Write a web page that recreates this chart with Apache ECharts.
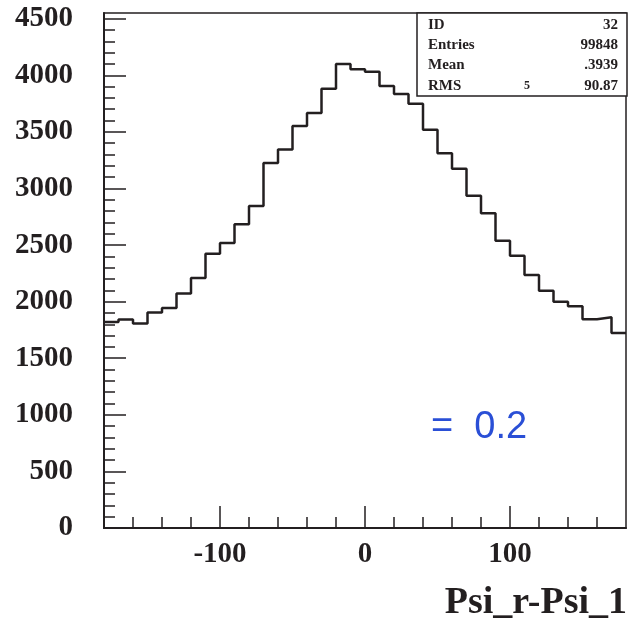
<!DOCTYPE html>
<html>
<head>
<meta charset="utf-8">
<script src="https://cdn.jsdelivr.net/npm/echarts@6/dist/echarts.min.js"></script>
<style>html,body{margin:0;padding:0;background:#fff;}#c{width:630px;height:626px;}</style>
</head>
<body>
<div id="c"></div>
<script>
// Histogram bins (lower edges) and counts
var binLow = [-180,-170,-160,-150,-140,-130,-120,-110,-100,-90,-80,-70,-60,-50,-40,-30,-20,-10,
              0,10,20,30,40,50,60,70,80,90,100,110,120,130,140,150,160,170];
var counts = [1820,1841,1806,1903,1944,2071,2209,2424,2518,2683,2845,3225,3345,3552,3666,3881,4100,4052,
              4030,3905,3835,3749,3519,3310,3175,2935,2780,2537,2405,2235,2097,2000,1960,1845,1862,1723];
var xRange = [-180, 180];
var yRange = [0, 4550];
var xMajorTicks = [-100, 0, 100];
var xMinorTicks = [-160,-140,-120,-80,-60,-40,-20,20,40,60,80,120,140,160];
var yMajorTicks = [0,500,1000,1500,2000,2500,3000,3500,4000,4500];
var yMinorTicks = [100,200,300,400,600,700,800,900,1100,1200,1300,1400,1600,1700,1800,1900,
                   2100,2200,2300,2400,2600,2700,2800,2900,3100,3200,3300,3400,3600,3700,3800,3900,
                   4100,4200,4300,4400];
var statLabels = ['ID','Entries','Mean','RMS'];
var statValues = ['32','99848','.3939','90.87'];
var xTitle = 'Psi_r-Psi_1';
var note = '=  0.2';

var data = binLow.map(function(x, i){ return [x, counts[i]]; });
data.push([xRange[1], counts[counts.length-1]]);

var ink = '#231f20';
var serifBold = 'bold 15px "Liberation Serif", "DejaVu Serif", serif';
var plain = function(v){ return String(v); };

var chart = echarts.init(document.getElementById('c'), null, {renderer:'canvas'});
var graphics = [
  {type:'rect', shape:{x:417, y:13, width:210, height:83}, style:{fill:'#fff', stroke:ink, lineWidth:1.5}, z:10},
  {type:'text', style:{text:xTitle, x:627, y:603, textAlign:'right', textVerticalAlign:'middle',
     font:'bold 38px "Liberation Serif", serif', fill:ink}},
  {type:'text', style:{text:note, x:431, y:428, textAlign:'left', textVerticalAlign:'middle',
     font:'38px "Liberation Sans", sans-serif', fill:'#2a4fd6'}},
  {type:'text', style:{text:'5', x:527, y:86, textAlign:'center', textVerticalAlign:'middle',
     font:'bold 12px "Liberation Serif", serif', fill:ink}, z:11}
];
var rowY = [25, 45, 65, 86];
statLabels.forEach(function(l, i){
  graphics.push({type:'text', z:11, style:{text:l, x:428, y:rowY[i], textAlign:'left', textVerticalAlign:'middle', font:serifBold, fill:ink}});
  graphics.push({type:'text', z:11, style:{text:statValues[i], x:618, y:rowY[i], textAlign:'right', textVerticalAlign:'middle', font:serifBold, fill:ink}});
});

chart.setOption({
  animation:false,
  backgroundColor:'#fff',
  grid:{left:104, right:4, top:13, bottom:98, show:true, borderColor:ink, borderWidth:1.5, backgroundColor:'transparent'},
  xAxis:[
    {type:'value', min:xRange[0], max:xRange[1], position:'bottom',
     axisLine:{show:true, onZero:false, lineStyle:{color:ink, width:2}},
     axisTick:{show:true, inside:true, length:22, customValues:xMajorTicks, lineStyle:{color:ink, width:1.5}},
     axisLabel:{show:true, customValues:xMajorTicks, margin:12, color:ink, formatter:plain,
       fontFamily:'"Liberation Serif", serif', fontWeight:'bold', fontSize:29},
     splitLine:{show:false}},
    {type:'value', min:xRange[0], max:xRange[1], position:'bottom',
     axisLine:{show:false, onZero:false},
     axisTick:{show:true, inside:true, length:11, customValues:xMinorTicks, lineStyle:{color:ink, width:1.5}},
     axisLabel:{show:false}, splitLine:{show:false}}
  ],
  yAxis:[
    {type:'value', min:yRange[0], max:yRange[1], position:'left',
     axisLine:{show:true, onZero:false, lineStyle:{color:ink, width:2}},
     axisTick:{show:true, inside:true, length:22, customValues:yMajorTicks, lineStyle:{color:ink, width:1.5}},
     axisLabel:{show:true, customValues:yMajorTicks, margin:31, color:ink, formatter:plain,
       fontFamily:'"Liberation Serif", serif', fontWeight:'bold', fontSize:29},
     splitLine:{show:false}},
    {type:'value', min:yRange[0], max:yRange[1], position:'left',
     axisLine:{show:false, onZero:false},
     axisTick:{show:true, inside:true, length:11, customValues:yMinorTicks, lineStyle:{color:ink, width:1.5}},
     axisLabel:{show:false}, splitLine:{show:false}}
  ],
  series:[{
    type:'line', step:'end', data:data, xAxisIndex:0, yAxisIndex:0,
    showSymbol:false, symbol:'none',
    lineStyle:{color:ink, width:2.5}
  }],
  graphic:graphics
});
</script>
</body>
</html>
